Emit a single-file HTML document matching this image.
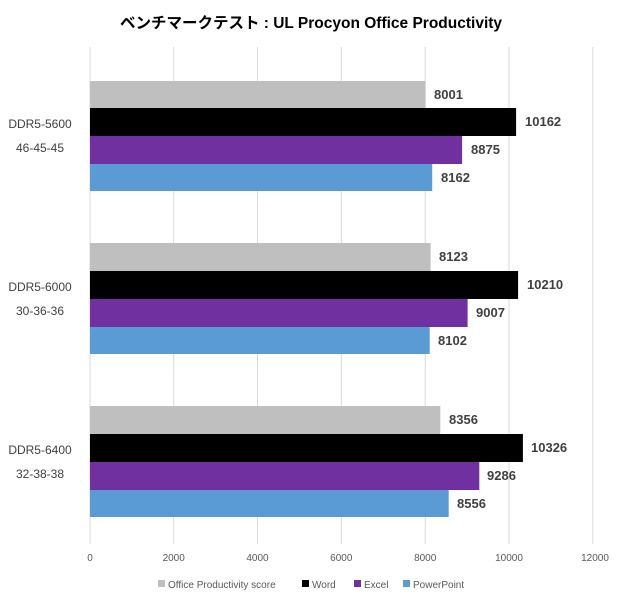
<!DOCTYPE html>
<html><head><meta charset="utf-8"><style>body{margin:0;background:#fff}</style></head><body>
<svg width="620" height="600" xmlns="http://www.w3.org/2000/svg" font-family="Liberation Sans, Noto Sans CJK JP, sans-serif">
<rect width="620" height="600" fill="#fff"/>
<text x="311" y="28" text-anchor="middle" font-size="15.5" font-weight="bold" fill="#000">ベンチマークテスト : UL Procyon Office Productivity</text>
<g stroke="#d9d9d9" stroke-width="1">
<line x1="90" y1="47" x2="90" y2="544"/><line x1="173.7" y1="47" x2="173.7" y2="544"/><line x1="257.5" y1="47" x2="257.5" y2="544"/><line x1="341.3" y1="47" x2="341.3" y2="544"/><line x1="425.2" y1="47" x2="425.2" y2="544"/><line x1="509" y1="47" x2="509" y2="544"/><line x1="592.8" y1="47" x2="592.8" y2="544"/>
</g>
<g font-size="10" fill="#595959" text-anchor="middle">
<text x="90" y="561">0</text><text x="173.7" y="561">2000</text><text x="257.5" y="561">4000</text><text x="341.3" y="561">6000</text><text x="425.2" y="561">8000</text><text x="509" y="561">10000</text><text x="595" y="561">12000</text>
</g>
<g font-size="13" fill="#404040" font-weight="bold">
<rect x="90" y="81" width="335.5" height="27" fill="#bfbfbf"/><text x="434" y="99">8001</text>
<rect x="90" y="108" width="426.1" height="28" fill="#000"/><text x="525" y="126">10162</text>
<rect x="90" y="136" width="372.1" height="28" fill="#7030a0"/><text x="471" y="154">8875</text>
<rect x="90" y="164" width="342.2" height="27" fill="#5b9bd5"/><text x="441" y="182">8162</text>

<rect x="90" y="243" width="340.6" height="28" fill="#bfbfbf"/><text x="439" y="261">8123</text>
<rect x="90" y="271" width="428.1" height="28" fill="#000"/><text x="527" y="289">10210</text>
<rect x="90" y="299" width="377.6" height="28" fill="#7030a0"/><text x="476" y="317">9007</text>
<rect x="90" y="327" width="339.7" height="27" fill="#5b9bd5"/><text x="438" y="345">8102</text>

<rect x="90" y="406" width="350.3" height="28" fill="#bfbfbf"/><text x="449" y="424">8356</text>
<rect x="90" y="434" width="432.9" height="28" fill="#000"/><text x="531" y="452">10326</text>
<rect x="90" y="462" width="389.3" height="28" fill="#7030a0"/><text x="487" y="480">9286</text>
<rect x="90" y="490" width="358.7" height="27" fill="#5b9bd5"/><text x="457" y="508">8556</text>
</g>
<g font-size="12" fill="#404040" text-anchor="middle">
<text x="40" y="128">DDR5-5600</text><text x="40" y="152">46-45-45</text>
<text x="40" y="291">DDR5-6000</text><text x="40" y="315">30-36-36</text>
<text x="40" y="454">DDR5-6400</text><text x="40" y="478">32-38-38</text>
</g>
<g font-size="10" fill="#595959">
<rect x="158" y="580" width="7" height="7" fill="#bfbfbf"/><text x="168" y="588">Office Productivity score</text>
<rect x="302" y="580" width="7" height="7" fill="#000"/><text x="312" y="588">Word</text>
<rect x="354" y="580" width="7" height="7" fill="#7030a0"/><text x="364" y="588">Excel</text>
<rect x="403" y="580" width="7" height="7" fill="#5b9bd5"/><text x="413" y="588">PowerPoint</text>
</g>
</svg>
</body></html>
